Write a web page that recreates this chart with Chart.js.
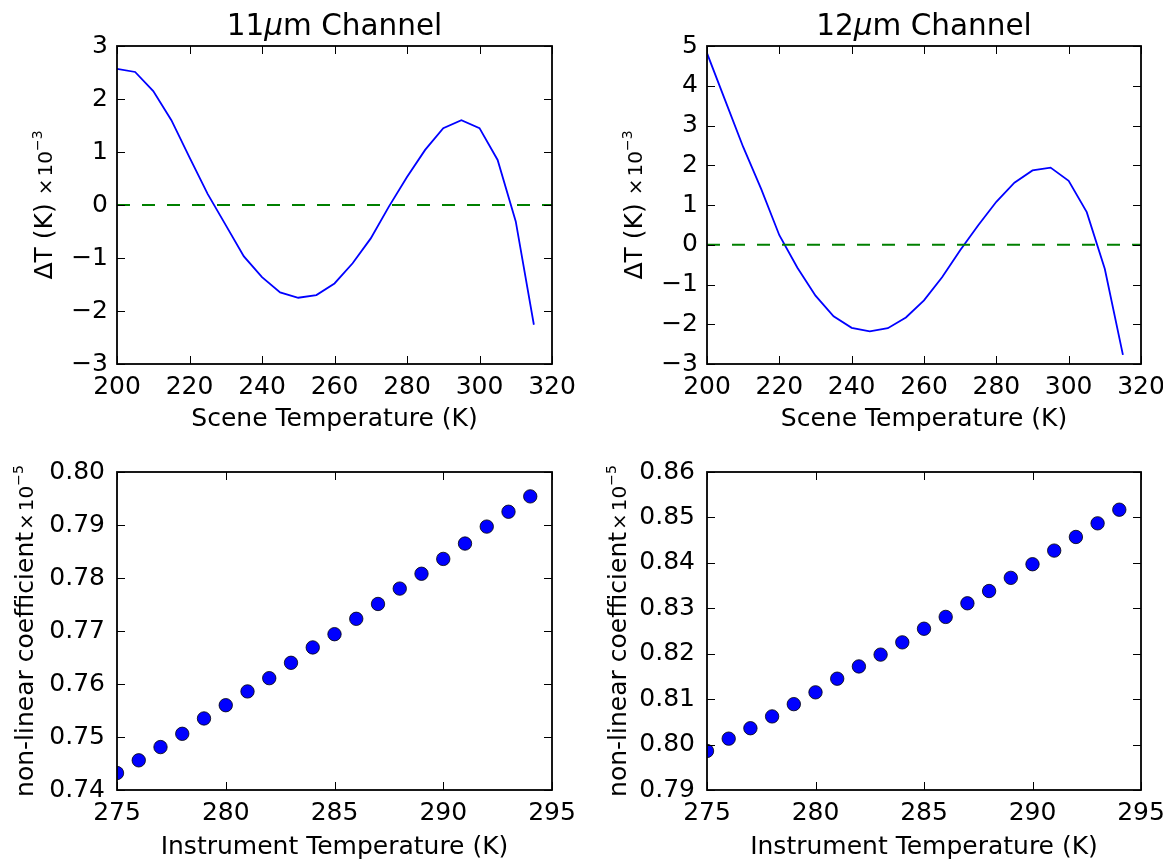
<!DOCTYPE html>
<html>
<head>
<meta charset="utf-8">
<script src="https://cdn.jsdelivr.net/npm/chart.js@4/dist/chart.umd.min.js"></script>
<style>
  html, body { margin: 0; padding: 0; background: #fff; }
  #wrap { position: relative; width: 1163px; height: 863px; overflow: hidden; background: #fff; }
  #wrap canvas { position: absolute; }
</style>
</head>
<body>
<div id="wrap">
  <canvas id="dt11"></canvas>
  <canvas id="dt12"></canvas>
  <canvas id="nl11"></canvas>
  <canvas id="nl12"></canvas>
</div>
<script>
// ---- data ----
const sceneTemp = [200, 205, 210, 215, 220, 225, 230, 235, 240, 245, 250, 255,
                   260, 265, 270, 275, 280, 285, 290, 295, 300, 305, 310, 315];
const deltaT11 = [2.57, 2.51, 2.15, 1.60, 0.90, 0.21, -0.38, -0.97, -1.36, -1.65, -1.75, -1.70,
                  -1.48, -1.10, -0.63, -0.03, 0.53, 1.04, 1.45, 1.60, 1.45, 0.85, -0.31, -2.26];
const deltaT12 = [4.82, 3.64, 2.46, 1.40, 0.24, -0.58, -1.28, -1.80, -2.09, -2.18, -2.10, -1.83,
                  -1.40, -0.82, -0.14, 0.49, 1.08, 1.56, 1.87, 1.94, 1.61, 0.82, -0.61, -2.77];
const zeroLineX = [200, 320];

const instrumentTemp = [275, 276, 277, 278, 279, 280, 281, 282, 283, 284,
                        285, 286, 287, 288, 289, 290, 291, 292, 293, 294];
const coeff11 = [0.7432, 0.7456, 0.7481, 0.7506, 0.7535, 0.7560, 0.7586, 0.7611, 0.7640, 0.7669,
                 0.7694, 0.7723, 0.7751, 0.7780, 0.7808, 0.7836, 0.7865, 0.7897, 0.7925, 0.7954];
const coeff12 = [0.7986, 0.8013, 0.8036, 0.8062, 0.8089, 0.8115, 0.8145, 0.8172, 0.8198, 0.8225,
                 0.8255, 0.8281, 0.8311, 0.8338, 0.8367, 0.8397, 0.8427, 0.8457, 0.8487, 0.8517];

// axis ranges: [min, max, step]
const sceneAxis = [200, 320, 20];
const instrumentAxis = [275, 295, 5];
const dt11Axis = [-3, 3, 1];
const dt12Axis = [-3, 5, 1];
const coeff11Axis = [0.74, 0.80, 0.01];
const coeff12Axis = [0.79, 0.86, 0.01];

// text
const sceneLabel = 'Scene Temperature (K)';
const instrumentLabel = 'Instrument Temperature (K)';

// ---- drawing helpers ----
const FAMILY = '"DejaVu Sans", "Liberation Sans", sans-serif';
const TICK_SIZE = 25;
const LABEL_SIZE = 25;
const TITLE_SIZE = 29.5;
Chart.defaults.font.family = FAMILY;
Chart.defaults.color = '#000';

function fontStr(size, style) { return (style ? style + ' ' : '') + size + 'px ' + FAMILY; }

// draw a run of text pieces (different sizes / offsets) centred on x=0, baseline y=0
function drawRuns(ctx, runs) {
  let total = 0;
  runs.forEach(r => { ctx.font = fontStr(r.size, r.style); r.w = ctx.measureText(r.text).width; total += r.w + (r.gap || 0); });
  let x = -total / 2;
  ctx.textAlign = 'left';
  ctx.textBaseline = 'alphabetic';
  runs.forEach(r => {
    ctx.font = fontStr(r.size, r.style);
    ctx.fillText(r.text, x, r.dy || 0);
    x += r.w + (r.gap || 0);
  });
}

const axesFrame = {
  id: 'axesFrame',
  afterDraw(chart, args, opts) {
    const { ctx, chartArea: a, scales: { x, y } } = chart;
    ctx.save();
    // inward tick marks on all four sides
    ctx.strokeStyle = '#000';
    ctx.lineWidth = 1;
    ctx.beginPath();
    const L = 8;
    x.ticks.forEach(t => {
      const px = Math.round(x.getPixelForValue(t.value)) + 0.5;
      ctx.moveTo(px, a.bottom); ctx.lineTo(px, a.bottom - L);
      ctx.moveTo(px, a.top); ctx.lineTo(px, a.top + L);
    });
    y.ticks.forEach(t => {
      const py = Math.round(y.getPixelForValue(t.value)) + 0.5;
      ctx.moveTo(a.left, py); ctx.lineTo(a.left + L, py);
      ctx.moveTo(a.right, py); ctx.lineTo(a.right - L, py);
    });
    ctx.stroke();
    // axes box
    ctx.lineWidth = 1.8;
    ctx.strokeRect(a.left, a.top, a.right - a.left, a.bottom - a.top);

    ctx.fillStyle = '#000';
    // title
    if (opts.title) {
      ctx.save();
      ctx.translate((a.left + a.right) / 2, opts.titleBaseline);
      drawRuns(ctx, opts.title);
      ctx.restore();
    }
    // rotated y-axis label
    if (opts.yLabel) {
      ctx.save();
      ctx.translate(opts.yLabelBaseline, (a.top + a.bottom) / 2);
      ctx.rotate(-Math.PI / 2);
      drawRuns(ctx, opts.yLabel);
      ctx.restore();
    }
    ctx.restore();
  }
};

const minusFmt = v => (v < 0 ? '\u2212' + Math.abs(v) : String(v));

function makeChart(id, box, plot, xAxis, yAxis, xTitle, datasets, yFmt, deco) {
  const cv = document.getElementById(id);
  cv.width = box.w; cv.height = box.h;
  cv.style.left = box.left + 'px'; cv.style.top = box.top + 'px';
  cv.style.width = box.w + 'px'; cv.style.height = box.h + 'px';
  const Y_W = 100;
  const X_H = plot.xAxisH;
  return new Chart(cv, {
    type: 'scatter',
    data: { datasets },
    options: {
      responsive: false,
      animation: false,
      events: [],
      layout: {
        padding: {
          left: plot.l - Y_W,
          top: plot.t,
          right: box.w - plot.r,
          bottom: box.h - plot.b - X_H
        }
      },
      plugins: { legend: { display: false }, tooltip: { enabled: false }, axesFrame: deco },
      scales: {
        x: {
          type: 'linear', position: 'bottom',
          min: xAxis[0], max: xAxis[1],
          grid: { display: false, drawTicks: false }, border: { display: false },
          ticks: { stepSize: xAxis[2], autoSkip: false, maxRotation: 0, padding: 8,
                   font: { size: TICK_SIZE }, color: '#000', callback: v => String(v) },
          title: { display: true, text: xTitle, font: { size: LABEL_SIZE }, color: '#000',
                   padding: { top: 0, bottom: 0 } },
          afterFit: s => { s.height = X_H; s.paddingLeft = 0; s.paddingRight = 0; }
        },
        y: {
          type: 'linear', position: 'left',
          min: yAxis[0], max: yAxis[1],
          grid: { display: false, drawTicks: false }, border: { display: false },
          ticks: { stepSize: yAxis[2], autoSkip: false, padding: plot.yTickPad,
                   font: { size: TICK_SIZE }, color: '#000', callback: yFmt },
          afterFit: s => { s.width = Y_W; s.paddingTop = 0; s.paddingBottom = 0; }
        }
      }
    },
    plugins: [axesFrame]
  });
}

function curveSet(xs, ys) {
  return {
    data: xs.map((t, i) => ({ x: t, y: ys[i] })),
    showLine: true, borderColor: '#0000ff', borderWidth: 1.8,
    pointRadius: 0, tension: 0, fill: false, clip: 0
  };
}
function zeroSet() {
  return {
    data: zeroLineX.map(t => ({ x: t, y: 0 })),
    showLine: true, borderColor: '#008000', borderWidth: 1.8, borderDash: [13, 12],
    pointRadius: 0, tension: 0, fill: false, clip: 0
  };
}
function dotSet(xs, ys) {
  return {
    data: xs.map((t, i) => ({ x: t, y: ys[i] })),
    showLine: false, pointRadius: 6.7, pointBackgroundColor: '#0000ff',
    pointBorderColor: '#000', pointBorderWidth: 0.8, clip: 0
  };
}

const dtLabel = exp => [
  { text: '\u0394T (K)', size: LABEL_SIZE, gap: 8 },
  { text: '\u00d7', size: 20, gap: 2 },
  { text: '10', size: 20 },
  { text: '\u2212' + exp, size: 14, dy: -10 }
];
const coeffLabel = exp => [
  { text: 'non-linear coefficient', size: LABEL_SIZE, gap: 2 },
  { text: '\u00d7', size: 20, gap: 2 },
  { text: '10', size: 20 },
  { text: '\u2212' + exp, size: 14, dy: -10 }
];
const chanTitle = ch => [
  { text: ch, size: TITLE_SIZE },
  { text: '\u03bc', size: TITLE_SIZE, style: 'italic' },
  { text: 'm Channel', size: TITLE_SIZE }
];

const topPlotL = { l: 117, t: 46, r: 552, b: 364, xAxisH: 70, yTickPad: 9 };
const topPlotR = { l: 117, t: 46, r: 551, b: 364, xAxisH: 70, yTickPad: 9 };
const botPlotL = { l: 117, t: 27, r: 552, b: 345, xAxisH: 72.4, yTickPad: 12 };
const botPlotR = { l: 117, t: 27, r: 551, b: 345, xAxisH: 72.4, yTickPad: 12 };

makeChart('dt11', { left: 0, top: 0, w: 590, h: 445 }, topPlotL, sceneAxis, dt11Axis, sceneLabel,
  [zeroSet(), curveSet(sceneTemp, deltaT11)], minusFmt,
  { title: chanTitle('11'), titleBaseline: 35, yLabel: dtLabel(3), yLabelBaseline: 52 });

makeChart('dt12', { left: 590, top: 0, w: 573, h: 445 }, topPlotR, sceneAxis, dt12Axis, sceneLabel,
  [zeroSet(), curveSet(sceneTemp, deltaT12)], minusFmt,
  { title: chanTitle('12'), titleBaseline: 35, yLabel: dtLabel(3), yLabelBaseline: 52 });

makeChart('nl11', { left: 0, top: 445, w: 590, h: 418 }, botPlotL, instrumentAxis, coeff11Axis, instrumentLabel,
  [dotSet(instrumentTemp, coeff11)], v => v.toFixed(2),
  { yLabel: coeffLabel(5), yLabelBaseline: 33 });

makeChart('nl12', { left: 590, top: 445, w: 573, h: 418 }, botPlotR, instrumentAxis, coeff12Axis, instrumentLabel,
  [dotSet(instrumentTemp, coeff12)], v => v.toFixed(2),
  { yLabel: coeffLabel(5), yLabelBaseline: 36 });
</script>
</body>
</html>
